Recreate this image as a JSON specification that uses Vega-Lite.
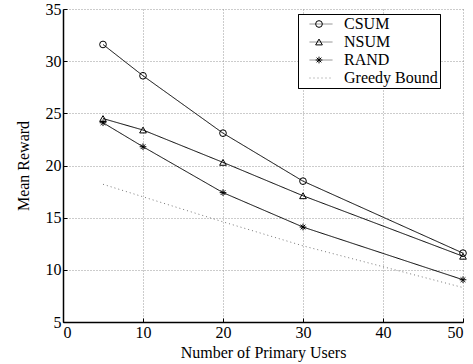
{
  "$schema": "https://vega.github.io/schema/vega-lite/v6.json",
  "width": 400,
  "height": 313,
  "autosize": {"type": "none"},
  "padding": {"left": 63, "top": 9, "right": 10, "bottom": 42},
  "background": "white",
  "config": {
    "font": "Liberation Serif",
    "view": {"stroke": null},
    "axis": {
      "labelFont": "Liberation Serif",
      "titleFont": "Liberation Serif",
      "labelFontSize": 16,
      "titleFontSize": 16,
      "labelColor": "black",
      "titleColor": "black",
      "titleFontWeight": "normal",
      "domainColor": "black",
      "domainWidth": 1.5,
      "tickColor": "black",
      "tickSize": -4,
      "gridColor": "#999999",
      "gridDash": [1, 2],
      "gridOpacity": 1
    },
    "legend": {
      "labelFont": "Liberation Serif",
      "labelFontSize": 16,
      "labelColor": "black"
    }
  },
  "data": {
    "values": [
      {"x": 5, "y": 31.6, "s": "CSUM"},
      {"x": 10, "y": 28.6, "s": "CSUM"},
      {"x": 20, "y": 23.1, "s": "CSUM"},
      {"x": 30, "y": 18.5, "s": "CSUM"},
      {"x": 50, "y": 11.6, "s": "CSUM"},
      {"x": 5, "y": 24.5, "s": "NSUM"},
      {"x": 10, "y": 23.4, "s": "NSUM"},
      {"x": 20, "y": 20.3, "s": "NSUM"},
      {"x": 30, "y": 17.1, "s": "NSUM"},
      {"x": 50, "y": 11.3, "s": "NSUM"},
      {"x": 5, "y": 24.1, "s": "RAND"},
      {"x": 10, "y": 21.8, "s": "RAND"},
      {"x": 20, "y": 17.4, "s": "RAND"},
      {"x": 30, "y": 14.1, "s": "RAND"},
      {"x": 50, "y": 9.05, "s": "RAND"},
      {"x": 5, "y": 18.2, "s": "Greedy Bound"},
      {"x": 10, "y": 17.0, "s": "Greedy Bound"},
      {"x": 20, "y": 14.6, "s": "Greedy Bound"},
      {"x": 30, "y": 12.3, "s": "Greedy Bound"},
      {"x": 50, "y": 8.3, "s": "Greedy Bound"}
    ]
  },
  "layer": [
    {
      "mark": {"type": "line", "strokeWidth": 1},
      "encoding": {
        "x": {
          "field": "x", "type": "quantitative",
          "scale": {"domain": [0, 50], "nice": false},
          "axis": {"values": [0, 10, 20, 30, 40, 50], "title": "Number of Primary Users", "labelPadding": 6, "titlePadding": 4}
        },
        "y": {
          "field": "y", "type": "quantitative",
          "scale": {"domain": [5, 35], "nice": false, "zero": false},
          "axis": {"values": [5, 10, 15, 20, 25, 30, 35], "title": "Mean Reward", "labelPadding": 6, "titlePadding": 14}
        },
        "color": {
          "field": "s", "type": "nominal",
          "sort": ["CSUM", "NSUM", "RAND", "Greedy Bound"],
          "scale": {"range": ["black", "black", "black", "#777777"]},
          "legend": {
            "title": null, "orient": "none", "legendX": 235, "legendY": 5,
            "symbolType": "M-2,0L2,0", "symbolSize": 132, "symbolStrokeWidth": 1,
            "padding": 2, "rowPadding": 2, "symbolOffset": 13, "labelOffset": 15,
            "strokeColor": "black", "fillColor": "white"
          }
        },
        "strokeDash": {
          "field": "s", "type": "nominal",
          "sort": ["CSUM", "NSUM", "RAND", "Greedy Bound"],
          "scale": {"range": [[1, 0], [1, 0], [1, 0], [1, 3]]},
          "legend": {
            "title": null, "orient": "none", "legendX": 235, "legendY": 5,
            "symbolType": "M-2,0L2,0", "symbolSize": 132, "symbolStrokeWidth": 1,
            "padding": 2, "rowPadding": 2, "symbolOffset": 13, "labelOffset": 15,
            "strokeColor": "black", "fillColor": "white"
          }
        }
      }
    },
    {
      "transform": [{"filter": "datum.s !== 'Greedy Bound'"}],
      "mark": {"type": "point", "filled": false, "color": "black", "size": 45, "strokeWidth": 1, "opacity": 1},
      "encoding": {
        "x": {"field": "x", "type": "quantitative"},
        "y": {"field": "y", "type": "quantitative"},
        "shape": {
          "field": "s", "type": "nominal",
          "scale": {
            "domain": ["CSUM", "NSUM", "RAND", "Greedy Bound"],
            "range": ["circle", "triangle-up", "M-1,0L1,0M0,-1L0,1M-0.7,-0.7L0.7,0.7M-0.7,0.7L0.7,-0.7", "M0,0"]
          },
          "legend": {
            "title": null, "orient": "none", "legendX": 235, "legendY": 5,
            "symbolSize": 45, "symbolStrokeColor": "black", "symbolFillColor": "transparent",
            "symbolStrokeWidth": 1, "labelExpr": "''", "padding": 2, "rowPadding": 2,
            "symbolOffset": 11
          }
        }
      }
    }
  ]
}
